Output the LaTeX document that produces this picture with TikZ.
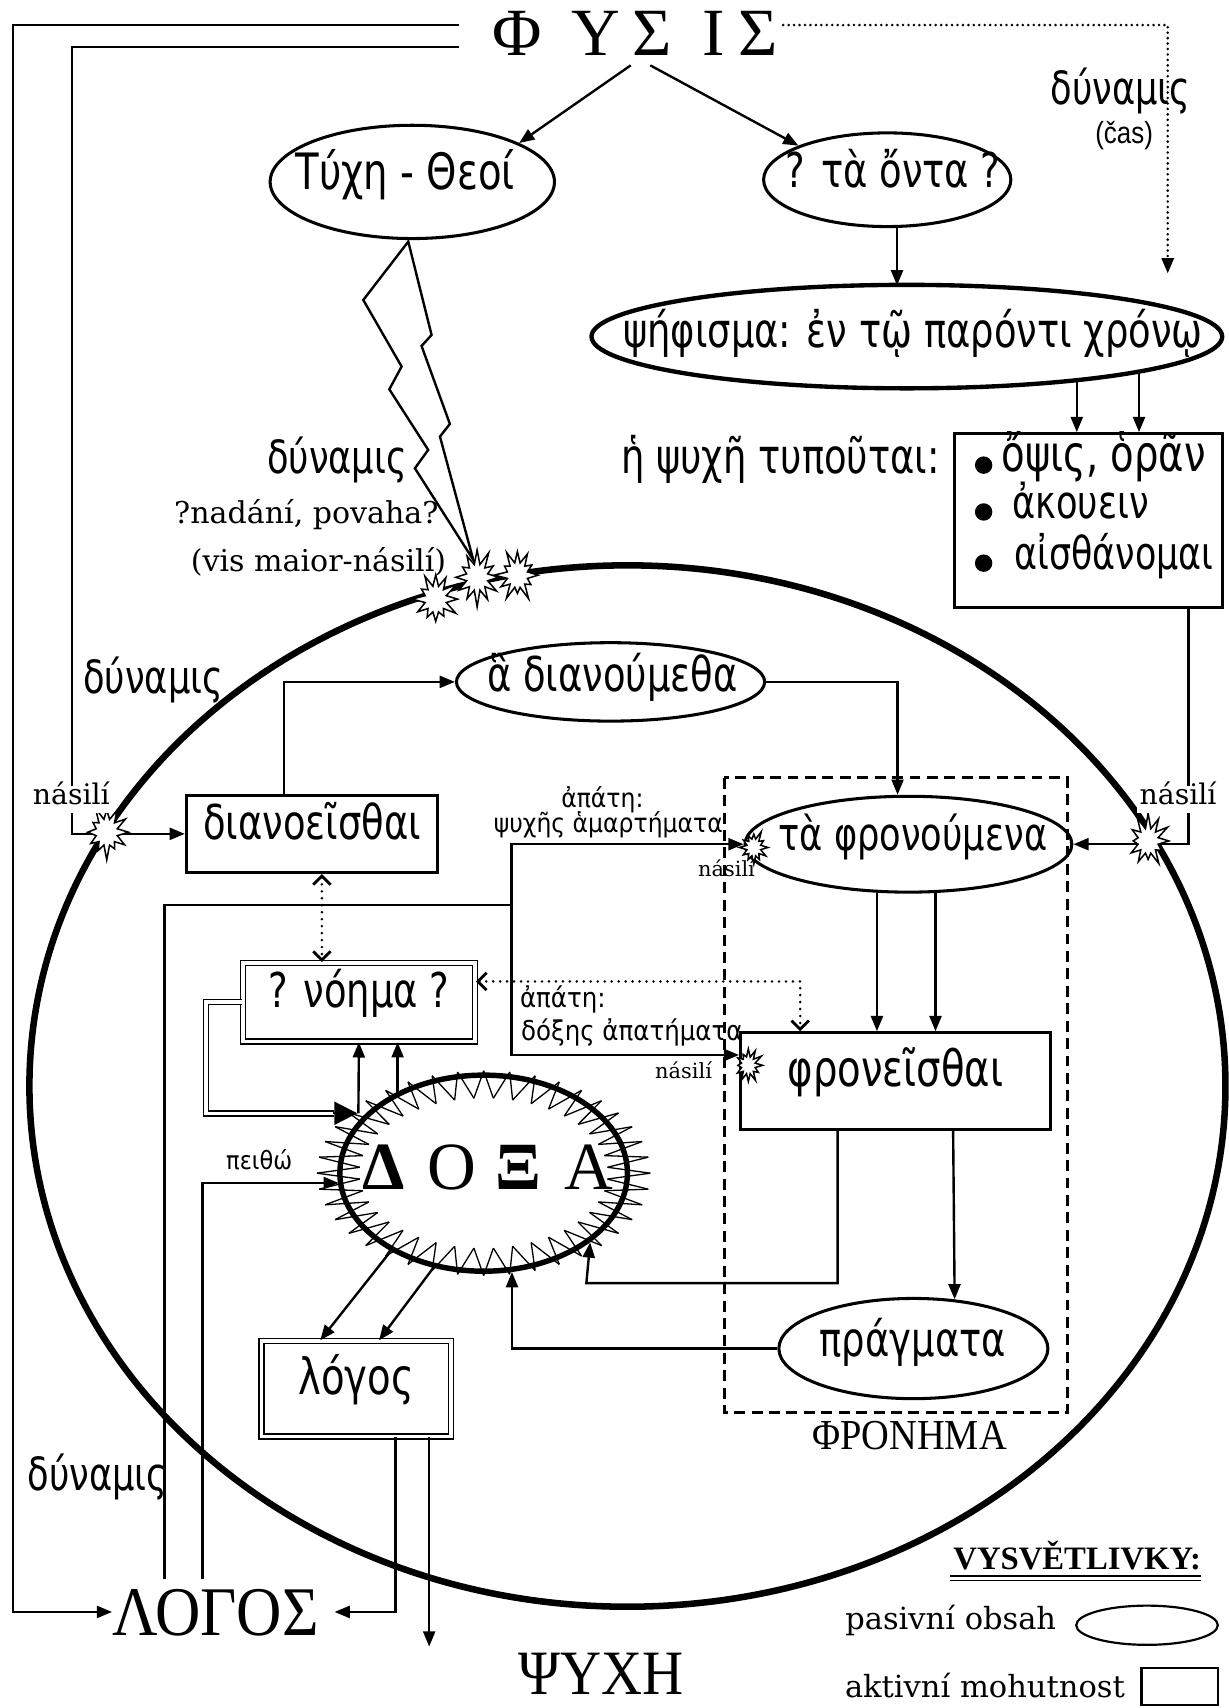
\documentclass[tikz,border=0pt]{standalone}
\usepackage{fontspec}
\usetikzlibrary{arrows.meta,shapes.geometric,calc}
\newfontfamily\gr[FakeStretch=0.77]{DejaVu Sans}
\newfontfamily\grw[FakeStretch=0.9]{DejaVu Sans}
\newfontfamily\tmc[FakeStretch=0.9]{Liberation Serif}
\newfontfamily\tm{Liberation Serif}
\newfontfamily\lat{DejaVu Serif}
\newfontfamily\hsf[FakeStretch=0.85]{Liberation Sans}
\newcommand\fs[1]{\fontsize{#1}{#1}\selectfont}
% starburst: x, y, outer radius, name
\newcommand\vburst[4]{%
  \coordinate (#4) at (#1,#2);
  \draw[fill=white,line width=0.7pt,line join=miter] ($(#4)+(0:#3)$)
    \foreach \i [evaluate=\i as \r using {ifthenelse(mod(\i,2)==0,#3*(0.72+0.4*rnd),0.5*#3)}] in {1,...,23}
      { -- ($(#4)+({\i*360/24}:{\r} and {1.22*\r})$) } -- cycle;}
\begin{document}
\begin{tikzpicture}[x=0.5pt,y=-0.5pt,
  conn/.style={line width=1.1pt},
  arr/.style={conn,-{Triangle[length=7pt,width=5.5pt]}},
  pas/.style={ellipse,draw,line width=1.4pt,inner sep=0pt},
  act/.style={rectangle,draw,line width=1.3pt,inner sep=0pt},
  dbl/.style={rectangle,draw,double,double distance=1.6pt,line width=0.7pt,inner sep=0pt},
  dotl/.style={line width=1.3pt,dash pattern=on 0pt off 3.2pt,line cap=round},
  dbarb/.style={dotl,{Straight Barb[length=4pt,width=8pt]}-{Straight Barb[length=4pt,width=8pt]}},
  gtxt/.style={inner sep=0pt,text height=0.75em,text depth=0.25em},
  caps/.style={inner sep=0pt,anchor=base,text depth=0pt}
]
\pgfmathsetseed{4242}
\fill[white] (0,0) rectangle (1128,1568);
\useasboundingbox (0,0) rectangle (1128,1568);

% big soul circle
\draw[line width=3pt] (576,997) ellipse [x radius=549, y radius=478];

% PHYSIS
\node[caps,font=\tm\fs{31}] (fy1) at (474.5,50.5) {Φ};
\node[caps,font=\tm\fs{31}] (fy2) at (546.6,50.5) {Υ};
\node[caps,font=\tm\fs{31}] (fy3) at (598.7,50.5) {Σ};
\node[caps,font=\tm\fs{31}] (fy4) at (654.8,50.5) {Ι};
\node[caps,font=\tm\fs{31}] (fy5) at (696,50.5) {Σ};
\coordinate (o1) at (421,23);
\coordinate (o2) at (421,43);
\coordinate (o3) at (719,23);
\coordinate (src1) at (579,60);
\coordinate (src2) at (597,60);

% passive contents (ellipses)
\node[pas,minimum width=130.5pt,minimum height=52pt] (tyche) at (378.5,167) {};
\node[gtxt,font=\gr\fs{23}] (tycheT) at (372,169) {Τύχη - Θεοί};
\node[pas,minimum width=113.5pt,minimum height=43pt] (onta) at (814.5,165) {};
\node[gtxt,font=\gr\fs{22}] (ontaT) at (820,167) {? τὰ ὄντα ?};
\node[pas,line width=2pt,minimum width=289.5pt,minimum height=47.5pt] (psi) at (832.5,309) {};
\node[gtxt,font=\gr\fs{22}] (psiT) at (838,314) {ψήφισμα: ἐν τῷ παρόντι χρόνῳ};
\node[pas,minimum width=141.5pt,minimum height=36pt] (dianum) at (560.5,626) {};
\node[gtxt,font=\gr\fs{22}] (dianumT) at (562,630) {ἃ διανούμεθα};
\node[pas,minimum width=150pt,minimum height=44pt] (fron) at (834,775) {};
\node[gtxt,font=\gr\fs{21}] (fronT) at (838,776) {τὰ φρονούμενα};
\node[pas,minimum width=123.5pt,minimum height=46pt] (prag) at (838.5,1238) {};
\node[gtxt,font=\gr\fs{22}] (pragT) at (838,1240) {πράγματα};

% active faculties (boxes)
\node[act,minimum width=123pt,minimum height=80pt] (bul) at (999,478) {};
\fill (903,427) circle [radius=4pt];
\fill (903,470) circle [radius=4pt];
\fill (903,517) circle [radius=4pt];
\node[gtxt,font=\gr\fs{23},anchor=west] (b1) at (919,428) {ὄψις, ὁρᾶν};
\node[gtxt,font=\gr\fs{21},anchor=west] (b2) at (929,471) {ἀκουειν};
\node[gtxt,font=\gr\fs{20.8},anchor=west] (b3) at (931,518) {αἰσθάνομαι};
\node[gtxt,font=\gr\fs{22},anchor=east] (typ) at (863,430) {ἡ ψυχῆ τυποῦται:};

\node[act,minimum width=115.5pt,minimum height=35.5pt,font=\gr\fs{22},text height=0.75em,text depth=0.25em] (dian) at (286.5,765.5) {διανοεῖσθαι};
\node[act,minimum width=142.25pt,minimum height=44.5pt,font=\gr\fs{23},text height=0.75em,text depth=0.25em] (phr) at (822,992.5) {φρονεῖσθαι};
\node[dbl,minimum width=106.6pt,minimum height=36.1pt,font=\gr\fs{22},text height=0.75em,text depth=0.25em] (noema) at (329.5,920) {? νόημα ?};
\node[dbl,minimum width=87.1pt,minimum height=43.9pt,font=\gr\fs{23},text height=0.75em,text depth=0.25em] (lgb) at (327,1275) {λόγος};

% PHRONEMA frame
\draw[line width=1.4pt,dash pattern=on 5pt off 3pt] (665,714) rectangle (980,1297);
\node[caps,font=\tmc\fs{19.6}] (phronema) at (835,1331) {ΦΡΟΝΗΜΑ};

% DOXA
\foreach \j in {0,...,79}{
  \pgfmathsetmacro\ta{\j*4.5}
  \pgfmathsetmacro\tb{\j*4.5+4.5}
  \ifodd\j
    \draw[line width=0.6pt] ({444+114*cos(\ta)},{1077+69*sin(\ta)}) -- ({444+153*cos(\tb)},{1077+94*sin(\tb)});
  \else
    \draw[line width=0.6pt] ({444+153*cos(\ta)},{1077+94*sin(\ta)}) -- ({444+114*cos(\tb)},{1077+69*sin(\tb)});
  \fi
}
\node[ellipse,draw,line width=2.5pt,inner sep=0pt,minimum width=132pt,minimum height=90pt] (doxa) at (444,1077) {};
\node[caps,font=\tm\bfseries\fs{31}] (dx1) at (352.5,1092) {Δ};
\node[caps,font=\tm\fs{31}] (dx2) at (415,1092) {Ο};
\node[caps,font=\tm\bfseries\fs{31}] (dx3) at (476,1092) {Ξ};
\node[caps,font=\tm\fs{31}] (dx4) at (541,1092) {Α};

% LOGOS, PSYCHE
\node[caps,font=\tmc\fs{32}] (logos) at (198,1501) {ΛΟΓΟΣ};
\node[caps,font=\tmc\fs{29}] (psyche) at (552,1556) {ΨΥΧΗ};

% lightning
\draw[line width=1.1pt,fill=white] (374.8,221.8) -- (333.5,275.4) -- (368.7,336.5) -- (357.4,357.4) -- (393.1,413) -- (380.9,429.9) -- (434.5,514) -- (403.9,400.8) -- (413,389.2) -- (387,317.6) -- (396.2,307.5) -- cycle;

% connectors
\draw[arr] (src1) -- (tyche.20);
\draw[arr] (src2) -- (onta.159);
\coordinate (ontab) at (823.5,207);
\coordinate (psit) at (823.5,262);
\draw[arr] (ontab) -- (psit);
\draw[line width=1.3pt,dash pattern=on 0pt off 2.5pt,line cap=round,-{Triangle[length=7pt,width=5.5pt]}] (o3) -- (1072,23) -- (1072,251);
\draw[arr] (psi.-15) -- (psi.-15 |- bul.north);
\draw[arr] (psi.-9.4) -- (psi.-9.4 |- bul.north);
\draw[arr] ([xshift=46pt]bul.south) |- (fron.east);
\draw[arr] (o1) -- (12,23) |- (logos.west);
\draw[arr] (o2) -- (66,43) |- (dian.west);
\draw[arr] ([xshift=-13pt]dian.north) |- (dianum.west);
\draw[arr] (dianum.east) -| ([xshift=-5pt]fron.north);
\draw[arr] (fron.-123.9) -- (fron.-123.9 |- phr.north);
\draw[arr] (fron.-61.07) -- (fron.-61.07 |- phr.north);
\draw[dbarb] ([xshift=4.5pt]dian.south) -- ([xshift=-17pt]noema.north);
\draw[dbarb] ([yshift=9.5pt]noema.east) -| ([xshift=-43.7pt]phr.north);
\coordinate (lg1) at (151,1450);
\coordinate (lg2) at (186,1450);
\coordinate (jn) at (469.6,831);
\draw[conn] (lg1) |- (jn);
\draw[arr] (jn) |- (fron.west);
\draw[arr] (jn) |- ([yshift=12pt]phr.west);
\draw[line width=0.7pt,double,double distance=1.6pt] (noema.west) -- (189,920) -- (189,1022) -- (307,1022);
\draw[line width=1pt,-{Triangle[length=10.5pt,width=10.5pt]}] (306,1022) -- (328,1022);
\draw[arr] (329,1022) -- (noema.south);
\draw[arr] (365,1003) -- (365,1003 |- noema.south);
\draw[arr] (lg2) |- (311,1086);
\draw[arr] (doxa.220) -- ([xshift=-16.5pt]lgb.north);
\draw[arr] (doxa.242) -- ([xshift=10.5pt]lgb.north);
\draw[arr] ([xshift=18pt]lgb.south) |- ([xshift=7pt]logos.east);
\draw[arr] ([xshift=33.5pt]lgb.south) -- ++(0,192);
\coordinate (k1) at (538.3,1178);
\draw[arr] ([xshift=-26.5pt]phr.south) |- (k1) -- (doxa.-33.7);
\draw[arr] ([xshift=26.5pt]phr.south) -- (prag.50.3);
\draw[arr] (prag.west) -| (doxa.-74.8);

% violence bursts
\vburst{98}{764}{20}{st1}
\vburst{400}{550}{20}{st2}
\vburst{438}{530}{20}{st3}
\vburst{475}{528}{19}{st4}
\vburst{1054}{772}{19}{st5}
\vburst{692}{778}{13}{st6}
\vburst{687}{978}{13}{st7}

% labels
\node[gtxt,font=\gr\fs{21},anchor=east] (dyn1) at (374,430) {δύναμις};
\node[gtxt,font=\gr\fs{21},anchor=west] (dyn2) at (76,632) {δύναμις};
\node[gtxt,font=\gr\fs{21},anchor=west] (dyn3) at (25,1363) {δύναμις};
\node[gtxt,font=\gr\fs{21},anchor=west] (dyn4) at (964,91) {δύναμις};
\node[gtxt,font=\hsf\fs{14}] (cas) at (1032,127) {(čas)};
\node[gtxt,font=\lat\fs{13.8},anchor=east] (nad) at (403,476) {?nadání, povaha?};
\node[gtxt,font=\lat\fs{13.8},anchor=east] (vis) at (410,520) {(vis maior-násilí)};
\node[gtxt,font=\lat\fs{13},fill=white,inner sep=1pt] (nas1) at (65.5,734) {násilí};
\node[gtxt,font=\lat\fs{13},fill=white,inner sep=1pt] (nas2) at (1081.5,734) {násilí};
\node[gtxt,font=\lat\fs{9.6}] (nas3) at (667,800) {násilí};
\node[gtxt,font=\lat\fs{9.6},anchor=east] (nas4) at (654,985) {násilí};
\node[gtxt,font=\grw\fs{12}] (ap1) at (553,736) {ἀπάτη:};
\node[gtxt,font=\grw\fs{12},anchor=east] (ap1b) at (664,759) {ψυχῆς ἁμαρτήματα};
\node[gtxt,font=\grw\fs{12.5},anchor=west] (ap2) at (477,920) {ἀπάτη:};
\node[gtxt,font=\grw\fs{12.5},anchor=west] (ap2b) at (478,950) {δόξης ἀπατήματα};
\node[gtxt,font=\grw\fs{11.5}] (peitho) at (238,1069) {πειθώ};

% legend
\node[caps,font=\tm\bfseries\fs{15},anchor=base east] (leg) at (1103,1441) {VYSVĚTLIVKY:};
\draw[line width=1pt] (872,1447) -- (1103,1447);
\draw[line width=0.5pt] (872,1451) -- (1103,1451);
\node[gtxt,font=\lat\fs{14},anchor=east] (legp) at (970,1491) {pasivní obsah};
\node[gtxt,font=\lat\fs{14},anchor=east] (lega) at (1033,1553) {aktivní mohutnost};
\node[ellipse,draw,line width=1pt,inner sep=0pt,minimum width=65pt,minimum height=18pt] (legell) at (1053,1492) {};
\node[rectangle,draw,line width=1pt,inner sep=0pt,minimum width=35pt,minimum height=17pt] (legbox) at (1083,1548) {};
\end{tikzpicture}
\end{document}
